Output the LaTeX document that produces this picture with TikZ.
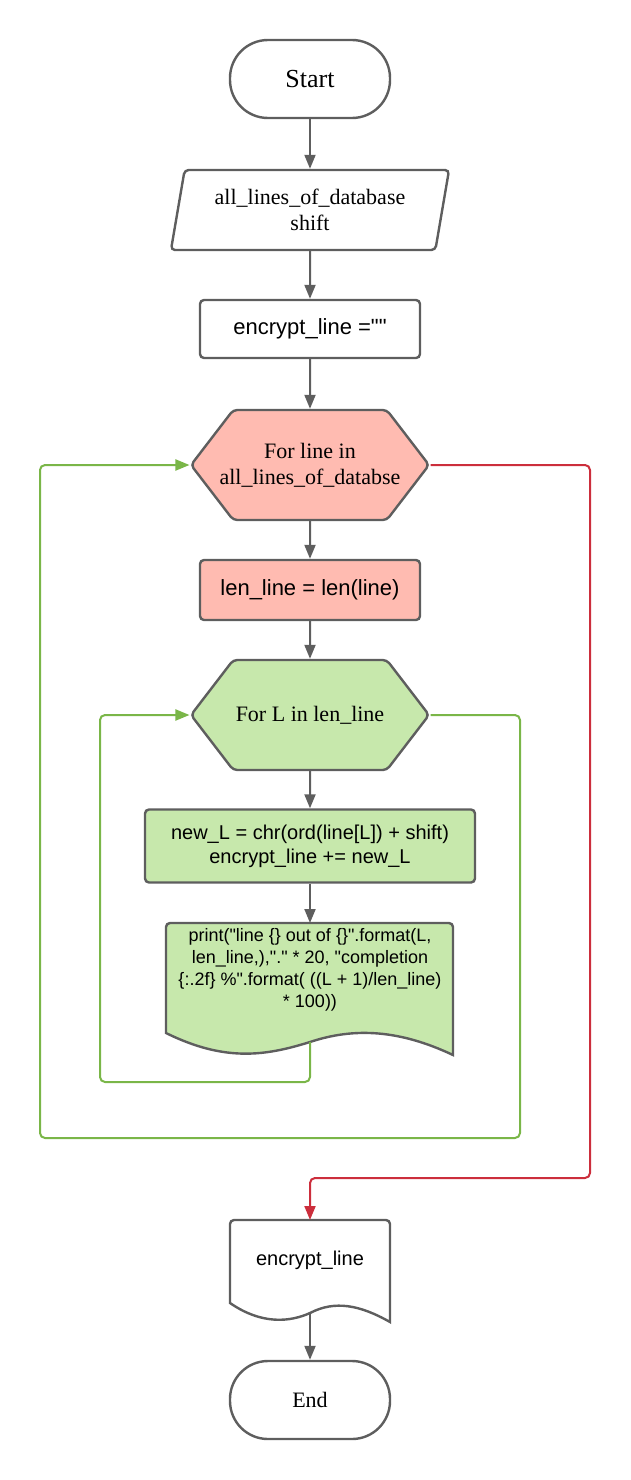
\documentclass[tikz,border=0pt]{standalone}
\usepackage{fontspec}
\setmainfont{Liberation Serif}
\setsansfont{Liberation Sans}[Ligatures=TeXOff]
\usetikzlibrary{shapes.geometric,shapes.symbols,arrows.meta}
\definecolor{lgray}{HTML}{5E5E5E}
\definecolor{redfill}{HTML}{FFBBB1}
\definecolor{greenfill}{HTML}{C7E8AC}
\definecolor{gline}{HTML}{7AB648}
\definecolor{rline}{HTML}{CC2E3C}
\tikzset{
  shapeline/.style={draw=lgray, line width=2.4pt},
  base/.style={shapeline, align=center, inner sep=0pt},
  term/.style={base, rounded corners=38pt, minimum width=160pt, minimum height=78pt},
  io/.style={base, trapezium, trapezium left angle=76, trapezium right angle=104,
    trapezium stretches=true, minimum width=279pt, minimum height=80pt, rounded corners=4pt,
    font=\fontsize{22}{26}\selectfont},
  proc/.style={base, rounded corners=4pt, font=\sffamily\fontsize{21}{25}\selectfont},
  forloop/.style={base, signal, signal to=west and east, signal pointer angle=105,
    minimum width=238pt, minimum height=110pt, rounded corners=4pt,
    font=\fontsize{22}{26}\selectfont},
  tip/.style={-{Triangle[width=11pt,length=14pt]}},
  flow/.style={draw=lgray, line width=2pt, tip},
  yesline/.style={draw=gline, line width=2pt, rounded corners=5pt, tip},
  noline/.style={draw=rline, line width=2pt, rounded corners=5pt, tip}
}
\begin{document}
\begin{tikzpicture}[x=1pt,y=-1pt]
\pgfmathsetmacro{\cx}{310};
\useasboundingbox (0,0) rectangle (630,1480);
% start, input, init
\node[term, font=\fontsize{26}{30}\selectfont] (start) at (\cx,79) {Start};
\node[io] (input) at (\cx,210) {all\_lines\_of\_database\\shift};
\node[proc, minimum width=220pt, minimum height=58pt,
  font=\sffamily\fontsize{22}{26}\selectfont] (init) at (\cx,329) {encrypt\_line =""};
% outer loop
\node[forloop, fill=redfill, inner xsep=-20pt] (outer) at (\cx,465) {For line in\\all\_lines\_of\_databse};
\node[proc, fill=redfill, minimum width=220pt, minimum height=60pt,
  font=\sffamily\fontsize{22}{26}\selectfont] (lenl) at (\cx,590) {len\_line = len(line)};
% inner loop
\node[forloop, fill=greenfill] (inner) at (\cx,715) {For L in len\_line};
\node[proc, fill=greenfill, minimum width=330pt, minimum height=73pt,
  font=\sffamily\fontsize{20}{24}\selectfont] (newl) at (\cx,846)
  {new\_L = chr(ord(line[L]) + shift)\\encrypt\_line += new\_L};
% print document
\draw[shapeline, fill=greenfill] (166,1033) [rounded corners=4pt] -- (166,923) -- (453,923)
  [sharp corners] -- (453,1055) .. controls (400,1030) and (355,1027) .. (310,1042)
  .. controls (265,1056) and (225,1062) .. (166,1033) -- cycle;
\node[align=center, font=\sffamily\fontsize{18}{22}\selectfont] (prn) at (\cx,970)
  {print("line \{\} out of \{\}".format(L,\\len\_line,),"." * 20, "completion\\
   \{:.2f\} \%".format( ((L + 1)/len\_line)\\* 100))};
\coordinate (prn-t) at (\cx,923);
\coordinate (prn-b) at (\cx,1042);
% output document
\draw[shapeline, fill=white] (230,1303) [rounded corners=4pt] -- (230,1220) -- (390,1220)
  [sharp corners] -- (390,1322) .. controls (360,1305) and (335,1300) .. (310,1313)
  .. controls (290,1322) and (262,1325) .. (230,1303) -- cycle;
\node[font=\sffamily\fontsize{20}{24}\selectfont] (out) at (\cx,1260) {encrypt\_line};
\coordinate (out-t) at (\cx,1220);
\coordinate (out-b) at (\cx,1313);
\node[term, font=\fontsize{22}{26}\selectfont] (end) at (\cx,1400) {End};
% straight connectors
\draw[flow] (start) -- (input);
\draw[flow] (input) -- (init);
\draw[flow] (init) -- (outer);
\draw[flow] (outer) -- (lenl);
\draw[flow] (lenl) -- (inner);
\draw[flow] (inner) -- (newl);
\draw[flow] (newl) -- (prn-t);
\draw[flow] (out-b) -- (end);
% loops back
\draw[yesline] (prn-b) |- (100,1082) |- (inner.west);
\draw[yesline] (inner.east) -| (520,1138) -| (40,465) -- (outer.west);
\draw[noline] (outer.east) -| (590,1178) -| (out-t);
\end{tikzpicture}
\end{document}
